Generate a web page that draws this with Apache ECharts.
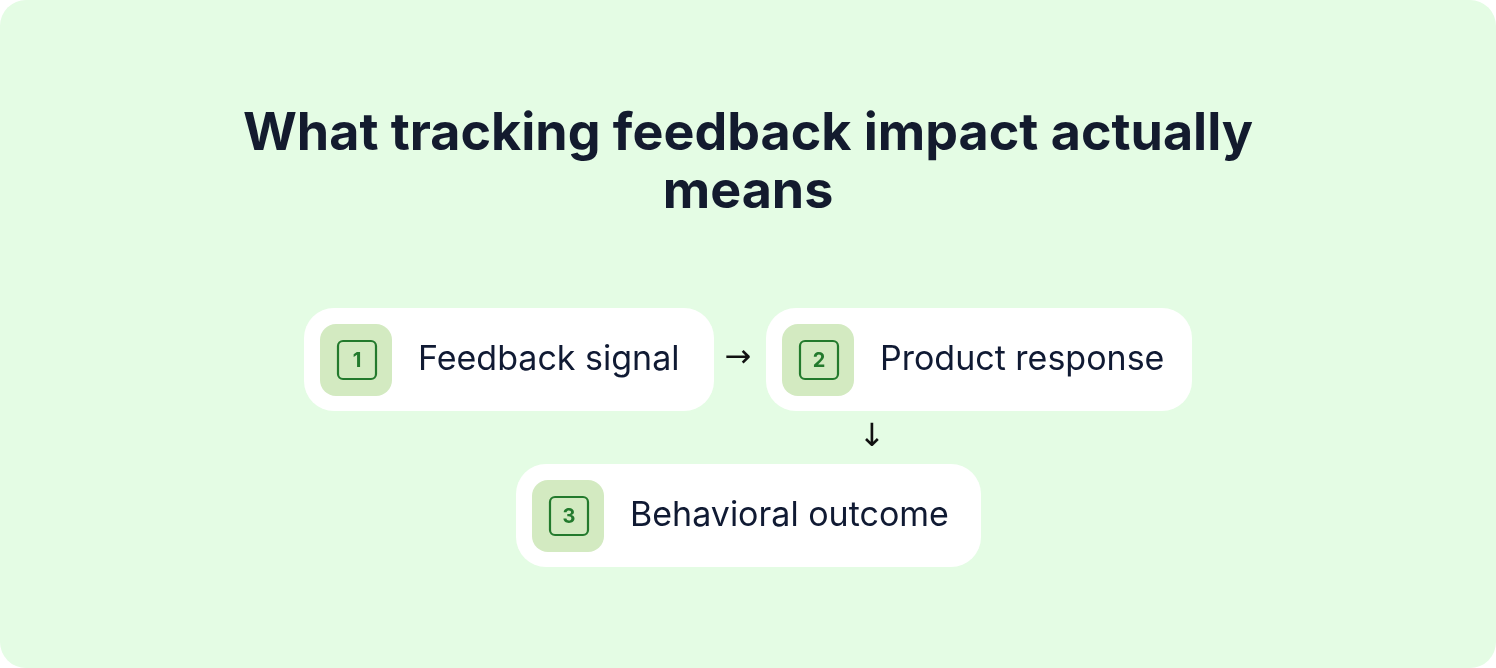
<!DOCTYPE html>
<html><head><meta charset="utf-8">
<script src="https://cdn.jsdelivr.net/npm/echarts@6/dist/echarts.min.js"></script>
<style>html,body{margin:0;padding:0;background:#fff}#c{width:1496px;height:668px}</style>
</head><body><div id="c"></div>
<script>
const titleLines = ["What tracking feedback impact actually", "means"];
const stepNumbers = ["1", "2", "3"];
const stepLabels = ["Feedback signal", "Product response", "Behavioral outcome"];
const arrows = ["→", "↓"];

const layout = [
  {x:304, y:308, w:410, h:103},
  {x:766, y:308, w:426, h:103},
  {x:516, y:464, w:465, h:103}
];
const arrowPos = [[738,359],[872,438]];
const font = 'Inter, "Noto Sans", sans-serif';
const g = [];
g.push({type:'rect', shape:{x:0,y:0,width:1496,height:668,r:26}, style:{fill:'#e4fce4'}});
titleLines.forEach((t,i)=>g.push({type:'text', x:748, y:134+i*58, style:{text:t, fill:'#131b2e', font:'bold 52px '+font, align:'center', verticalAlign:'middle'}}));
stepLabels.forEach((lab,i)=>{
  const b = layout[i];
  g.push({type:'rect', shape:{x:b.x,y:b.y,width:b.w,height:b.h,r:30}, style:{fill:'#ffffff'}});
  g.push({type:'rect', shape:{x:b.x+16,y:b.y+16,width:72,height:72,r:16}, style:{fill:'#d3eac1'}});
  g.push({type:'rect', shape:{x:b.x+34,y:b.y+33,width:38,height:38,r:5}, style:{fill:'none', stroke:'#237a2d', lineWidth:2.2}});
  g.push({type:'text', x:b.x+53, y:b.y+53, style:{text:stepNumbers[i], fill:'#237a2d', font:'bold 20px '+font, align:'center', verticalAlign:'middle'}});
  g.push({type:'text', x:b.x+114, y:b.y+52, style:{text:lab, fill:'#101a33', font:'34px '+font, align:'left', verticalAlign:'middle'}});
});
arrows.forEach((a,i)=>g.push({type:'text', x:arrowPos[i][0], y:arrowPos[i][1], style:{text:a, fill:'#111', font:'32px "DejaVu Sans"', align:'center', verticalAlign:'middle'}}));
const chart = echarts.init(document.getElementById('c'));
chart.setOption({animation:false, graphic:{elements:g}});
</script></body></html>
